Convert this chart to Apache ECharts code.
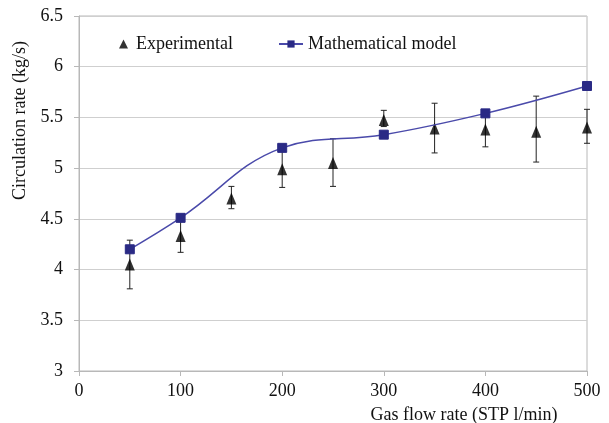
<!DOCTYPE html>
<html><head><meta charset="utf-8">
<script src="https://cdn.jsdelivr.net/npm/echarts@6/dist/echarts.min.js"></script>
<style>html,body{margin:0;padding:0;background:#fff}#c{width:609px;height:423px}</style>
</head><body><div id="c"></div>
<script>
const modelX = [50, 100, 200, 300, 400, 500];
const modelY = [4.20, 4.51, 5.20, 5.33, 5.54, 5.81];
const expX = [50, 100, 150, 200, 250, 300, 350, 400, 450, 500];
const expY = [4.05, 4.33, 4.70, 4.99, 5.05, 5.475, 5.39, 5.38, 5.36, 5.40];
const expLow = [3.81, 4.17, 4.60, 4.81, 4.82, 5.41, 5.15, 5.21, 5.06, 5.245];
const expHigh = [4.29, 4.50, 4.82, 5.19, 5.29, 5.57, 5.64, 5.52, 5.71, 5.58];
const xTicks = [0, 100, 200, 300, 400, 500];
const yTicks = [3, 3.5, 4, 4.5, 5, 5.5, 6, 6.5];

const font = '"Liberation Serif", "Times New Roman", serif';
const fs = 18;
const chart = echarts.init(document.getElementById('c'), null, {renderer: 'canvas'});
chart.setOption({
  animation: false,
  backgroundColor: '#fff',
  textStyle: {fontFamily: font, color: '#111'},
  grid: {left: 79, right: 22, top: 16, bottom: 52, show: true, borderColor: '#b8b8b8', borderWidth: 1,
    containLabel: false, outerBoundsMode: 'none'},
  legend: [
    {
      left: 114, top: 30, itemWidth: 9, itemHeight: 9, itemGap: 8,
      textStyle: {fontFamily: font, fontSize: fs, color: '#111', padding: [0, 0, 0, 3]},
      data: [{name: 'Experimental', icon: 'triangle', itemStyle: {color: '#000'}}]
    },
    {
      left: 273, top: 30, itemWidth: 24, itemHeight: 9, itemGap: 8,
      textStyle: {fontFamily: font, fontSize: fs, color: '#111'},
      data: [{name: 'Mathematical model'}]
    }
  ],
  xAxis: {
    type: 'value', min: xTicks[0], max: xTicks[xTicks.length - 1], interval: 100,
    name: 'Gas flow rate (STP l/min)', nameLocation: 'middle', nameGap: 35,
    nameTextStyle: {fontFamily: font, fontSize: fs, color: '#111', padding: [0, 0, 0, 262]},
    axisLine: {show: true, lineStyle: {color: '#b8b8b8'}},
    axisTick: {show: true, length: 5, lineStyle: {color: '#b8b8b8'}},
    axisLabel: {fontFamily: font, fontSize: fs, color: '#111', margin: 11},
    splitLine: {show: false}
  },
  yAxis: {
    type: 'value', min: yTicks[0], max: yTicks[yTicks.length - 1], interval: 0.5,
    name: 'Circulation rate (kg/s)', nameLocation: 'middle', nameGap: 49, nameRotate: 90,
    nameTextStyle: {fontFamily: font, fontSize: fs, color: '#111', padding: [0, 0, 0, 146]},
    axisLine: {show: true, lineStyle: {color: '#b8b8b8'}},
    axisTick: {show: true, length: 5, lineStyle: {color: '#b8b8b8'}},
    axisLabel: {fontFamily: font, fontSize: fs, color: '#111', margin: 16,
      formatter: v => String(v)},
    splitLine: {show: true, lineStyle: {color: '#cfcfcf', width: 1}}
  },
  series: [
    {
      name: 'Experimental-err', type: 'custom', z: 2, silent: true,
      data: expX.map((x, i) => [x, expLow[i], expHigh[i]]),
      renderItem: function (params, api) {
        const lo = api.coord([api.value(0), api.value(1)]);
        const hi = api.coord([api.value(0), api.value(2)]);
        const w = 3;
        const st = {stroke: '#222', lineWidth: 1};
        return {type: 'group', children: [
          {type: 'line', shape: {x1: lo[0], y1: lo[1], x2: hi[0], y2: hi[1]}, style: st},
          {type: 'line', shape: {x1: lo[0] - w, y1: lo[1], x2: lo[0] + w, y2: lo[1]}, style: st},
          {type: 'line', shape: {x1: hi[0] - w, y1: hi[1], x2: hi[0] + w, y2: hi[1]}, style: st}
        ]};
      }
    },
    {
      name: 'Experimental', type: 'scatter', z: 3,
      symbol: 'triangle', symbolSize: [10, 12],
      itemStyle: {color: '#000'},
      data: expX.map((x, i) => [x, expY[i]])
    },
    {
      name: 'Mathematical model', type: 'line', z: 4, smooth: 0.4,
      symbol: 'rect', symbolSize: 9,
      lineStyle: {color: '#4a4aaa', width: 1.5},
      itemStyle: {color: '#2a2a85', borderColor: '#2a2a85'},
      data: modelX.map((x, i) => [x, modelY[i]])
    }
  ]
});
</script></body></html>
